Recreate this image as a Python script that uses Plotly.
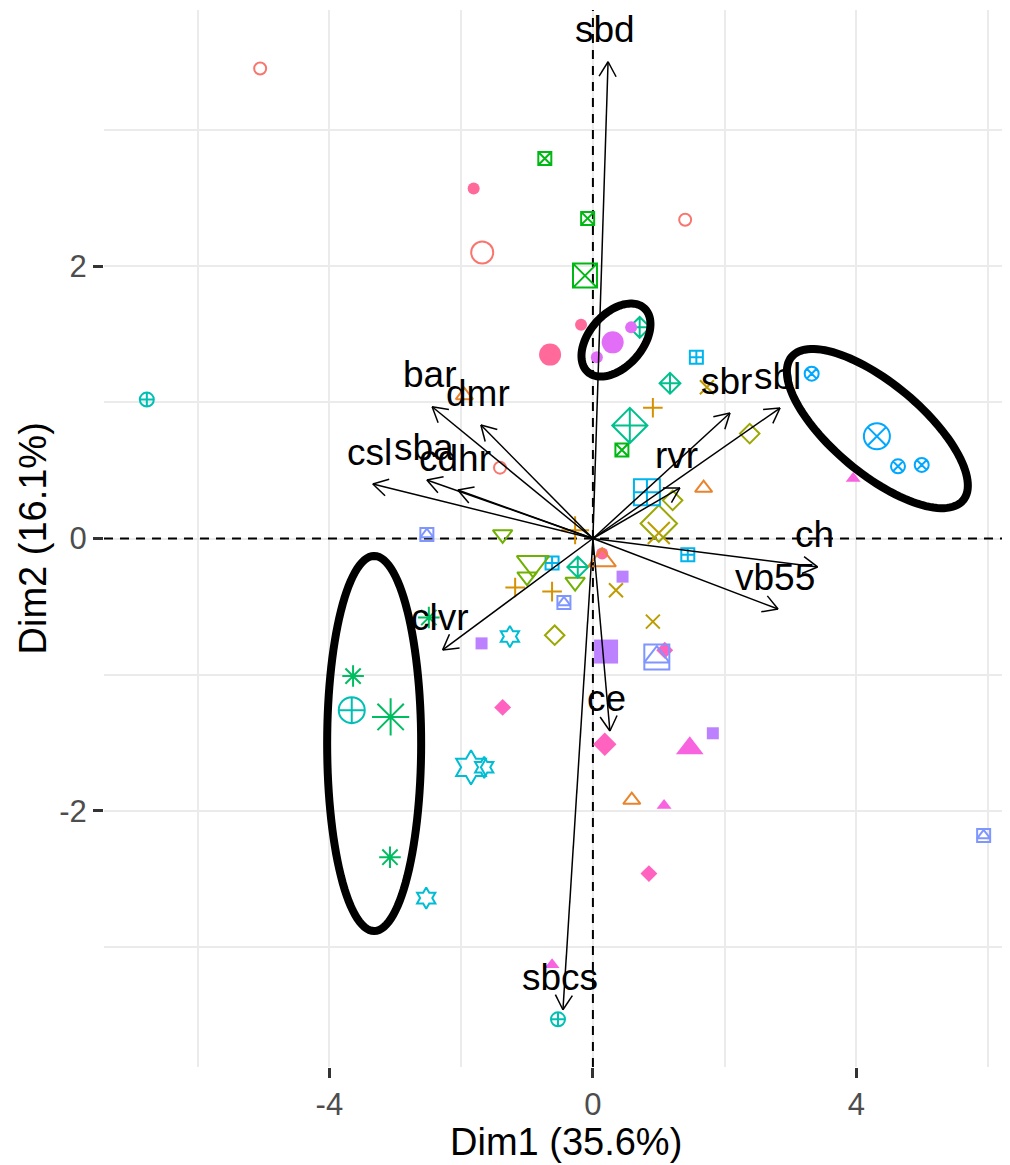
import math
import plotly.graph_objects as go

# ---------------- data ----------------
n_groups = 19
group_labels = [str(i) for i in range(1, n_groups + 1)]

# individuals: group id, Dim1, Dim2
ind_group = [1, 1, 1,
             2, 2, 2,
             3, 3, 3,
             4, 4, 4,
             5, 5, 5,
             6, 6, 6,
             7, 7, 7,
             8, 8, 8,
             9, 9, 9,
             10, 10,
             11, 11, 11,
             12, 12, 12,
             13, 13, 13,
             14, 14, 14,
             15, 15, 15,
             16, 16,
             17, 17, 17,
             18, 18, 18,
             19, 19, 19]
ind_x = [-5.05, 1.40, -1.41,
         1.68, 0.59, -1.95,
         0.91, -1.18, -0.62,
         1.73, 0.91, 0.35,
         2.38, 1.21, -0.58,
         -1.37, -1.00, -0.27,
         -0.73, -0.08, 0.44,
         -3.64, -3.08, -2.49,
         1.17, 0.71, -0.23,
         -6.77, -0.53,
         -1.26, -2.53, -1.65,
         1.57, -0.62, 1.44,
         3.32, 4.63, 4.99,
         -2.52, -0.44, 5.93,
         -1.69, 0.45, 1.82,
         0.06, 0.58,
         3.95, 1.08, -0.62,
         -1.37, 0.85, 1.09,
         -1.81, -0.18, 0.14]
ind_y = [3.45, 2.34, 0.52,
         0.37, -1.92, 1.05,
         0.96, -0.36, -0.39,
         1.11, -0.61, -0.38,
         0.77, 0.28, -0.71,
         0.03, -0.28, -0.32,
         2.79, 2.35, 0.65,
         -1.01, -2.34, -0.58,
         1.14, 1.55, -0.21,
         1.02, -3.53,
         -0.72, -2.64, -1.68,
         1.33, -0.18, -0.12,
         1.21, 0.53, 0.54,
         0.03, -0.47, -2.18,
         -0.77, -0.28, -1.43,
         1.33, 1.55,
         0.44, -1.96, -3.13,
         -1.24, -2.46, -0.82,
         2.57, 1.57, -0.11]

# group mean points
mean_x = [-1.68, 0.14, -0.27, 1.00, 1.00, -0.91, -0.12, -3.07, 0.56, -3.66,
          -1.85, 0.82, 4.31, 0.97, 0.20, 0.30, 1.47, 0.18, -0.65]
mean_y = [2.10, -0.16, 0.06, 0.04, 0.11, -0.18, 1.93, -1.31, 0.83, -1.26,
          -1.68, 0.34, 0.75, -0.87, -0.83, 1.44, -1.54, -1.51, 1.35]

# variables (arrow tips)
var_names = ["sbd", "bar", "dmr", "csl", "sba", "cdhr", "clvr", "sbcs", "ce",
             "sbr", "sbl", "rvr", "ch", "vb55"]
var_x = [0.23, -2.44, -1.70, -3.34, -2.52, -2.05, -2.28, -0.455, 0.258,
         2.08, 2.84, 1.32, 3.41, 2.81]
var_y = [3.50, 0.967, 0.833, 0.40, 0.43, 0.356, -0.818, -3.46, -1.413,
         0.921, 0.958, 0.371, -0.209, -0.518]

x_ticks = [-4, 0, 4]
y_ticks = [-2, 0, 2]
x_title = "Dim1 (35.6%)"
y_title = "Dim2 (16.1%)"

# highlight ellipses: centre (data), semi-axes (px), rotation (deg)
ell_cx = [-3.32, 0.35, 4.317]
ell_cy = [-1.505, 1.457, 0.807]
ell_a = [187.5, 42.6, 111.8]
ell_b = [47.0, 26.6, 45.0]
ell_ang = [90.0, 48.7, -39.9]

# ---------------- styling ----------------
def hcl_hex(h, c=100.0, l=65.0):
    Xn, Yn, Zn = 95.047, 100.0, 108.883
    hr = math.radians(h)
    u, v = c * math.cos(hr), c * math.sin(hr)
    Y = Yn * (((l + 16) / 116) ** 3 if l > 8 else l / 903.3)
    den = Xn + 15 * Yn + 3 * Zn
    un, vn = 4 * Xn / den, 9 * Yn / den
    up, vp = u / (13 * l) + un, v / (13 * l) + vn
    X = 9.0 * Y * up / (4 * vp)
    Z = -X / 3 - 5 * Y + 3 * Y / vp
    X, Y, Z = X / 100, Y / 100, Z / 100
    r = 3.240479 * X - 1.537150 * Y - 0.498535 * Z
    g = -0.969256 * X + 1.875992 * Y + 0.041556 * Z
    b = 0.055648 * X - 0.204043 * Y + 1.057311 * Z

    def gam(t):
        t = 1.055 * t ** (1 / 2.4) - 0.055 if t > 0.0031308 else 12.92 * t
        return int(round(min(max(t, 0), 1) * 255))
    return "#%02X%02X%02X" % (gam(r), gam(g), gam(b))


colors = [hcl_hex(15 + 360.0 * i / n_groups) for i in range(n_groups)]
symbols = ['circle-open', 'triangle-up-open', 'cross-thin-open', 'x-thin-open',
           'diamond-open', 'triangle-down-open', 'square-x-open', 'asterisk-open',
           'diamond-cross-open', 'circle-cross-open', 'hexagram-open',
           'square-cross-open', 'circle-x-open', 'square-open', 'square',
           'circle', 'triangle-up', 'diamond', 'circle']
size_small = [12, 15, 14, 14, 15, 17, 13, 18, 16, 14, 16, 13, 14, 13, 12, 12, 13, 13, 12]
size_big = [22, 24, 20, 22, 28, 28, 24, 31, 27, 26, 26, 26, 26, 25, 24, 22, 24, 18, 22]
FONT = "Liberation Sans"

# the page body adds an 8px offset; the figure is sized to fit the window
W, H = 1002, 1157
ML, MR, MT, MB = 96, 0, 2, 98
x_range = [-7.42, 6.33]
y_range = [-3.88, 3.88]
sx = (W - ML - MR) / (x_range[1] - x_range[0])
sy = (H - MT - MB) / (y_range[1] - y_range[0])

fig = go.Figure()

# dashed reference lines through the origin
fig.add_trace(go.Scatter(x=[0, 0, None, x_range[0], x_range[1]],
                         y=[y_range[0], y_range[1], None, 0, 0], mode='lines',
                         hoverinfo='skip', showlegend=False,
                         line=dict(color='black', width=2, dash='9px,7px')))


def add_pts(xs, ys, gi, size):
    sym = symbols[gi]
    is_open = sym.endswith('open')
    fig.add_trace(go.Scatter(
        x=xs, y=ys, mode='markers', hoverinfo='skip', showlegend=False,
        name=group_labels[gi],
        marker=dict(symbol=sym, size=size, color=colors[gi],
                    line=dict(color=colors[gi], width=2 if is_open else 0))))
    if gi == 13:  # square with inscribed triangle
        fig.add_trace(go.Scatter(
            x=xs, y=ys, mode='markers', hoverinfo='skip', showlegend=False,
            marker=dict(symbol='triangle-up-open', size=size * 0.87,
                        color=colors[gi], line=dict(color=colors[gi], width=2))))


for gi in range(n_groups):
    xs = [x for x, g in zip(ind_x, ind_group) if g == gi + 1]
    ys = [y for y, g in zip(ind_y, ind_group) if g == gi + 1]
    add_pts(xs, ys, gi, size_small[gi])
for gi in range(n_groups):
    add_pts([mean_x[gi]], [mean_y[gi]], gi, size_big[gi])

# variable arrows: shaft + open head (30 deg, 17 px arms)
HEAD_LEN, HEAD_ANG = 17.0, math.radians(30)
ax_pts, ay_pts = [], []
for vx, vy in zip(var_x, var_y):
    phi = math.atan2(vy * sy, vx * sx)
    ax_pts += [0, vx, None]
    ay_pts += [0, vy, None]
    for sgn in (-1, 1):
        ang = phi + sgn * HEAD_ANG
        ax_pts += [vx - HEAD_LEN * math.cos(ang) / sx, vx, None]
        ay_pts += [vy - HEAD_LEN * math.sin(ang) / sy, vy, None]
fig.add_trace(go.Scatter(x=ax_pts, y=ay_pts, mode='lines', hoverinfo='skip',
                         showlegend=False, line=dict(color='black', width=1.5)))

shapes = []
for cx, cy, a, b, ang in zip(ell_cx, ell_cy, ell_a, ell_b, ell_ang):
    th = math.radians(ang)
    pts = []
    for k in range(121):
        t = 2 * math.pi * k / 120
        px = a * math.cos(t) * math.cos(th) - b * math.sin(t) * math.sin(th)
        py = a * math.cos(t) * math.sin(th) + b * math.sin(t) * math.cos(th)
        pts.append((cx + px / sx, cy + py / sy))
    path = 'M ' + ' L '.join('%.4f,%.4f' % p for p in pts) + ' Z'
    shapes.append(dict(type='path', xref='x', yref='y', path=path,
                       line=dict(color='black', width=8), layer='above'))

annotations = []
for name, vx, vy in zip(var_names, var_x, var_y):
    annotations.append(dict(x=vx, y=vy, xref='x', yref='y', text=name,
                            showarrow=False, xanchor='center', yanchor='middle',
                            xshift=-3, yshift=32,
                            font=dict(family=FONT, size=37, color='black')))
annotations.append(dict(x=(566 - 8 - ML) / (W - ML - MR), y=0, xref='paper', yref='paper',
                        text=x_title, showarrow=False, xanchor='center',
                        yanchor='middle', yshift=-75,
                        font=dict(family=FONT, size=38, color='black')))
annotations.append(dict(x=(32 - 8 - ML) / (W - ML - MR), y=0.5, xref='paper', yref='paper',
                        text=y_title, showarrow=False, xanchor='center',
                        yanchor='middle', textangle=-90,
                        font=dict(family=FONT, size=38, color='black')))

axis_common = dict(showgrid=True, gridcolor='#EBEBEB', gridwidth=2,
                   zeroline=False, showline=False, ticks='outside', ticklen=10,
                   tickwidth=2.5, tickcolor='#333333',
                   tickfont=dict(family=FONT, size=31, color='#4D4D4D'))
fig.update_layout(
    width=W, height=H, margin=dict(l=ML, r=MR, t=MT, b=MB),
    plot_bgcolor='white', paper_bgcolor='white', showlegend=False,
    xaxis=dict(range=x_range, tickvals=x_ticks, ticktext=[str(v) for v in x_ticks],
               minor=dict(tickvals=[-6, -2, 2, 6], showgrid=True, gridcolor='#EBEBEB',
                          gridwidth=2, ticks=''), **axis_common),
    yaxis=dict(range=y_range, tickvals=y_ticks, ticktext=[str(v) for v in y_ticks],
               minor=dict(tickvals=[-3, -1, 1, 3], showgrid=True, gridcolor='#EBEBEB',
                          gridwidth=2, ticks=''), **axis_common),
    shapes=shapes, annotations=annotations,
)
fig.write_html("out.html")
